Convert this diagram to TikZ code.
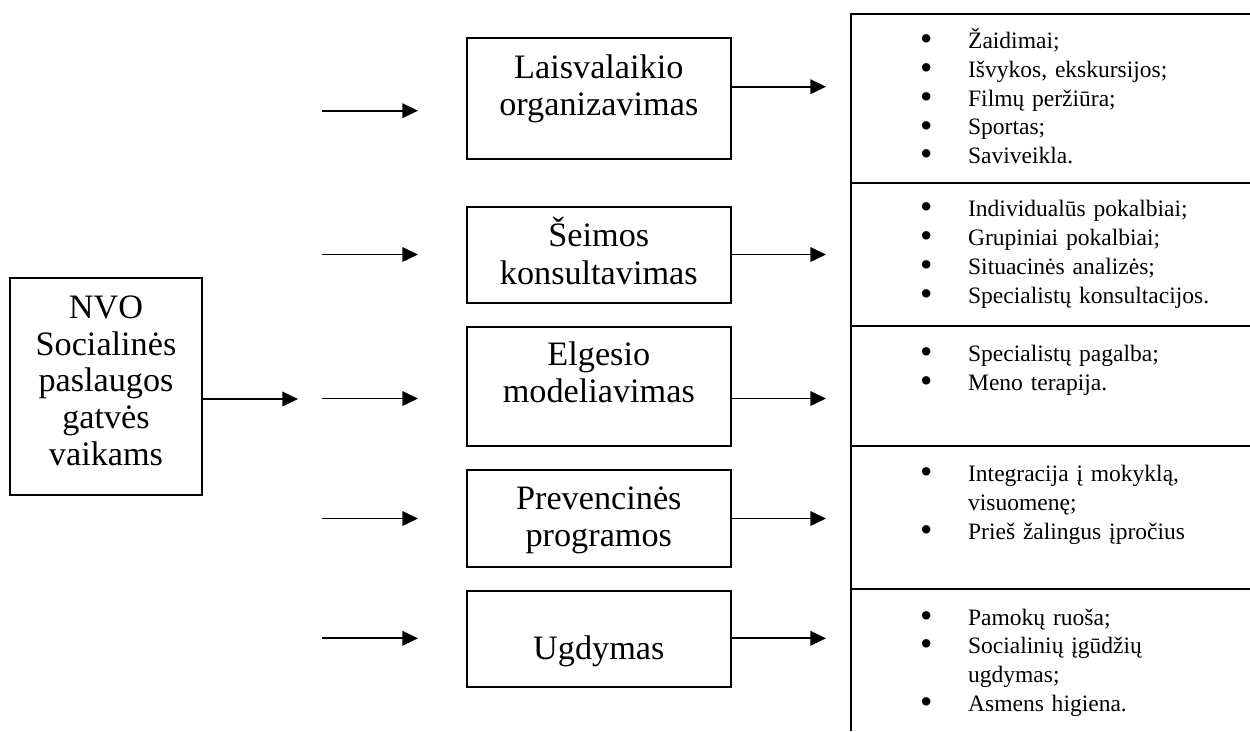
\documentclass[tikz,border=0pt]{standalone}
\usepackage{fontspec}
\usepackage{graphicx}
\setmainfont{Liberation Serif}
\usetikzlibrary{arrows.meta,fit}

\tikzset{
  px/.style={x=0.47619pt,y=-0.47619pt},
  box/.style={draw, line width=0.8pt, inner sep=0pt},
  big/.style={font=\fontsize{16.3}{17.8}\selectfont, align=center, text width=120pt, anchor=base, inner sep=0pt},
  list/.style={font=\fontsize{11.2}{13.75}\selectfont, align=left, text width=170pt, anchor=base west, inner sep=0pt},
  arr/.style={line width=0.8pt, -{Triangle[length=7.5pt,width=7pt]}}
}
\newcommand{\itm}{\leavevmode\llap{\raisebox{-1pt}{\scalebox{1.5}{•}}\hspace{17pt}}}

\begin{document}
\begin{tikzpicture}[px]
  \useasboundingbox (0,0) rectangle (1250,731);
  % left box
  \node[box, fit={(10,278.3) (202,495)}] (nvo) {};
  \node[big, text width=85pt, font=\fontsize{16.3}{17.5}\selectfont] (nvot) at (106,318.3) {NVO\\ Socialinės\\ paslaugos\\ gatvės\\ vaikams};
  \coordinate (nvo-a) at (298,399);
  \draw[arr] (nvo.east |- nvo-a) -- (nvo-a);

  % middle boxes
  \node[box, fit={(466.7,38.3) (731,158.7)}] (lais) {};
  \node[big] (laist) at (598.8,78.3) {Laisvalaikio\\ organizavimas};
  \node[box, fit={(466.7,206.7) (731,303)}] (seim) {};
  \node[big] (seimt) at (598.8,246.7) {Šeimos\\ konsultavimas};
  \node[box, fit={(466.7,326.7) (731,446)}] (elg) {};
  \node[big] (elgt) at (598.8,365) {Elgesio\\ modeliavimas};
  \node[box, fit={(466.7,470.3) (731,566.7)}] (prev) {};
  \node[big] (prevt) at (598.8,509.3) {Prevencinės\\ programos};
  \node[box, fit={(466.7,590.7) (731,687)}] (ugd) {};
  \node[big] (ugdt) at (598.8,659.3) {Ugdymas};

  % arrows in
  \foreach \n/\y in {lais/110.7, seim/254.5, elg/398.5, prev/518.5, ugd/638.3}
  {
  \coordinate (\n-a) at (321.7,\y);
  \coordinate (\n-b) at (418,\y);
  \draw[arr] (\n-a) -- (\n-b);
  }
  % arrows out
  \foreach \n/\y in {lais/86.7, seim/254.5, elg/398.5, prev/518.5, ugd/638.3}
  {
  \coordinate (\n-c) at (826,\y);
  \draw[arr] (\n.east |- \n-c) -- (\n-c);
  }

  % table
  \draw[line width=0.8pt] (1250,14.3) -- (850.7,14.3) -- (850.7,731);
  \foreach \y in {182.7,326,446,589.3}
  {
  \draw[line width=0.8pt] (850.7,\y) -- (1250,\y);
  }
  \node[list] (c1) at (967.7,48.3) {\itm Žaidimai;\\ \itm Išvykos, ekskursijos;\\ \itm Filmų peržiūra;\\ \itm Sportas;\\ \itm Saviveikla.};
  \node[list] (c2) at (967.7,216.7) {\itm Individualūs pokalbiai;\\ \itm Grupiniai pokalbiai;\\ \itm Situacinės analizės;\\ \itm Specialistų konsultacijos.};
  \node[list] (c3) at (967.7,361.5) {\itm Specialistų pagalba;\\ \itm Meno terapija.};
  \node[list] (c4) at (967.7,481.7) {\itm Integracija į mokyklą,\\ visuomenę;\\ \itm Prieš žalingus įpročius};
  \node[list] (c5) at (967.7,625) {\itm Pamokų ruoša;\\ \itm Socialinių įgūdžių\\ ugdymas;\\ \itm Asmens higiena.};
\end{tikzpicture}
\end{document}
